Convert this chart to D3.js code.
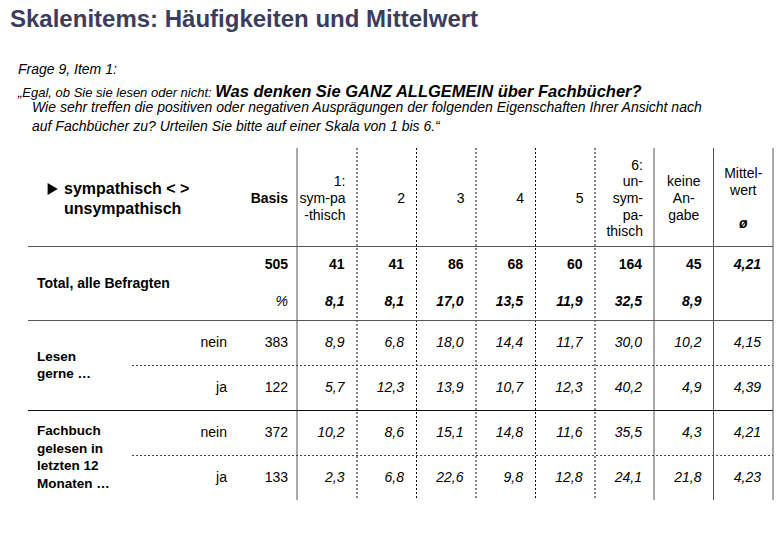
<!DOCTYPE html>
<html>
<head>
<meta charset="utf-8">
<script src="https://cdn.jsdelivr.net/npm/d3@7"></script>
<style>
  body { margin: 0; background: #fff; }
  svg { font-family: "Liberation Sans", Arial, sans-serif; }
</style>
</head>
<body>
<svg width="780" height="540"></svg>
<script>
// ---- data ----
const title = "Skalenitems: Häufigkeiten und Mittelwert";
const questionLines = ["Frage 9, Item 1:"];
const questionLead = "„Egal, ob Sie sie lesen oder nicht: ";
const questionBold = "Was denken Sie GANZ ALLGEMEIN über Fachbücher?";
const questionRest = [
  "Wie sehr treffen die positiven oder negativen Ausprägungen der folgenden Eigenschaften Ihrer Ansicht nach",
  "auf Fachbücher zu? Urteilen Sie bitte auf einer Skala von 1 bis 6.“"
];
const itemLabel = ["sympathisch < >", "unsympathisch"];

const columns = ["s1", "s2", "s3", "s4", "s5", "s6", "kA", "mw"];
const colHeaders = [
  ["1:", "sym-pa", "-thisch"],
  ["2"], ["3"], ["4"], ["5"],
  ["6:", "un-", "sym-", "pa-", "thisch"],
  ["keine", "An-", "gabe"],
  ["Mittel-", "wert"]
];

const totalLabel = "Total, alle Befragten";
const totalN = 505;
const totalCounts = [41, 41, 86, 68, 60, 164, 45];
const totalPct = [8.1, 8.1, 17.0, 13.5, 11.9, 32.5, 8.9];
const totalMean = 4.21;

const groupLabels = [["Lesen", "gerne …"], ["Fachbuch", "gelesen in", "letzten 12", "Monaten …"]];
const subLabels = ["nein", "ja"];
const subN = [[383, 122], [372, 133]];
const subPct = [
  [[8.9, 6.8, 18.0, 14.4, 11.7, 30.0, 10.2], [5.7, 12.3, 13.9, 10.7, 12.3, 40.2, 4.9]],
  [[10.2, 8.6, 15.1, 14.8, 11.6, 35.5, 4.3], [2.3, 6.8, 22.6, 9.8, 12.8, 24.1, 21.8]]
];
const subMean = [[4.15, 4.39], [4.21, 4.23]];

// ---- layout ----
const svg = d3.select("svg");
const pct = v => d3.format(".1f")(v).replace(".", ",");
const mean = v => d3.format(".2f")(v).replace(".", ",");

const x = d3.scaleBand().domain(columns).range([297, 773]);
const gridLeft = 28, gridRight = 773;
const gridTop = 148, headBottom = 246, totalBottom = 320, gridBottom = 500;
const totalRow = d3.scaleBand().domain(["n", "pct"]).range([headBottom, totalBottom]);
const groupBand = d3.scaleBand().domain([0, 1]).range([totalBottom, gridBottom]);
const subRow = d3.scaleBand().domain([0, 1]).range([0, groupBand.bandwidth()]);
const rowY = (g, s) => groupBand(g) + subRow(s) + subRow.bandwidth() / 2;
const pad = 12;
const fs = 14; // table font size
const colRight = c => x(c) + x.bandwidth() - pad;

// title + question
svg.append("text").attr("x", 10).attr("y", 27)
  .attr("font-size", 24).attr("font-weight", "bold").attr("fill", "#3a3d5c")
  .text(title);

svg.append("text").attr("x", 18).attr("y", 74)
  .attr("font-size", 14).attr("font-style", "italic").text(questionLines[0]);

const q2 = svg.append("text").attr("x", 18).attr("y", 97).attr("font-style", "italic");
q2.append("tspan").attr("font-size", 13).text(questionLead);
q2.append("tspan").attr("font-size", 16.5).attr("font-weight", "bold").text(questionBold);

svg.selectAll(".qrest").data(questionRest).join("text")
  .attr("class", "qrest")
  .attr("x", 32).attr("y", (d, i) => 112 + i * 19)
  .attr("font-size", 14).attr("font-style", "italic")
  .text(d => d);

// grid lines
const grid = svg.append("g");
// solid verticals
[x("s1"), x("kA"), x("mw"), gridRight].forEach(v => {
  grid.append("line").attr("x1", v).attr("x2", v).attr("y1", gridTop).attr("y2", gridBottom)
    .attr("stroke", "#555").attr("stroke-width", 1);
});
// dotted verticals
["s2", "s3", "s4", "s5", "s6"].forEach(c => {
  grid.append("line").attr("x1", x(c) + 0.5).attr("x2", x(c) + 0.5).attr("y1", gridTop).attr("y2", gridBottom)
    .attr("stroke", "#111").attr("stroke-width", 1).attr("stroke-dasharray", "2,2");
});
// horizontals
[[headBottom, "#555"], [totalBottom, "#555"], [groupBand(1), "#111"]].forEach(([v, col]) => {
  grid.append("line").attr("x1", gridLeft).attr("x2", gridRight).attr("y1", v + 0.5).attr("y2", v + 0.5)
    .attr("stroke", col).attr("stroke-width", 1.2);
});
[0, 1].forEach(g => {
  const v = groupBand(g) + subRow(1);
  grid.append("line").attr("x1", 132).attr("x2", gridRight).attr("y1", v + 0.5).attr("y2", v + 0.5)
    .attr("stroke", "#444").attr("stroke-width", 1).attr("stroke-dasharray", "2,2");
});

// header
svg.append("path")
  .attr("d", d3.symbol(d3.symbolTriangle, 60)())
  .attr("transform", "translate(51,189) rotate(90)")
  .attr("fill", "#000");
svg.selectAll(".item").data(itemLabel).join("text")
  .attr("class", "item")
  .attr("x", 64).attr("y", (d, i) => 194 + i * 20)
  .attr("font-size", 16).attr("font-weight", "bold")
  .text(d => d);

svg.append("text").attr("x", 288).attr("y", 198).attr("dy", "0.35em")
  .attr("text-anchor", "end").attr("font-size", fs).attr("font-weight", "bold").text("Basis");

const lh = 16.7;
columns.forEach((c, i) => {
  const lines = colHeaders[i];
  const centered = c === "kA" || c === "mw";
  const xPos = centered ? x(c) + x.bandwidth() / 2 : colRight(c) + 1;
  const y0 = c === "mw" ? 173 : 198 - (lines.length - 1) * lh / 2;
  svg.append("g").selectAll("text").data(lines).join("text")
    .attr("x", xPos).attr("y", (d, j) => y0 + j * lh).attr("dy", "0.35em")
    .attr("text-anchor", centered ? "middle" : "end")
    .attr("font-size", fs)
    .text(d => d);
});
svg.append("text").attr("x", x("mw") + x.bandwidth() / 2).attr("y", 223).attr("dy", "0.35em")
  .attr("text-anchor", "middle").attr("font-size", fs).attr("font-weight", "bold").attr("font-style", "italic")
  .text("ø");

// total rows
const yN = totalRow("n") + totalRow.bandwidth() / 2;
const yP = totalRow("pct") + totalRow.bandwidth() / 2;
svg.append("text").attr("x", 37).attr("y", headBottom + 37).attr("dy", "0.35em")
  .attr("font-size", 14).attr("font-weight", "bold").text(totalLabel);
svg.append("text").attr("x", 288).attr("y", yN).attr("dy", "0.35em")
  .attr("text-anchor", "end").attr("font-size", fs).attr("font-weight", "bold").text(totalN);
svg.append("text").attr("x", 288).attr("y", yP).attr("dy", "0.35em")
  .attr("text-anchor", "end").attr("font-size", fs).attr("font-style", "italic").text("%");

const valCols = columns.slice(0, 7);
svg.append("g").selectAll("text").data(totalCounts).join("text")
  .attr("x", (d, i) => colRight(valCols[i])).attr("y", yN).attr("dy", "0.35em")
  .attr("text-anchor", "end").attr("font-size", fs).attr("font-weight", "bold")
  .text(d => d);
svg.append("g").selectAll("text").data(totalPct).join("text")
  .attr("x", (d, i) => colRight(valCols[i])).attr("y", yP).attr("dy", "0.35em")
  .attr("text-anchor", "end").attr("font-size", fs).attr("font-weight", "bold").attr("font-style", "italic")
  .text(d => pct(d));
svg.append("text").attr("x", colRight("mw")).attr("y", yN).attr("dy", "0.35em")
  .attr("text-anchor", "end").attr("font-size", fs).attr("font-weight", "bold").attr("font-style", "italic")
  .text(mean(totalMean));

// group rows
groupLabels.forEach((lines, g) => {
  const cy = groupBand(g) + 45 + (g === 1 ? 2 : 0);
  const y0 = cy - (lines.length - 1) * 17.5 / 2;
  svg.append("g").selectAll("text").data(lines).join("text")
    .attr("x", 37).attr("y", (d, j) => y0 + j * 17.5).attr("dy", "0.35em")
    .attr("font-size", 13.5).attr("font-weight", "bold")
    .text(d => d);

  subLabels.forEach((lab, s) => {
    const y = rowY(g, s);
    const row = svg.append("g");
    row.append("text").attr("x", 227).attr("y", y).attr("dy", "0.35em")
      .attr("text-anchor", "end").attr("font-size", fs).text(lab);
    row.append("text").attr("x", 288).attr("y", y).attr("dy", "0.35em")
      .attr("text-anchor", "end").attr("font-size", fs).text(subN[g][s]);
    row.selectAll(".v").data(subPct[g][s]).join("text")
      .attr("class", "v")
      .attr("x", (d, i) => colRight(valCols[i])).attr("y", y).attr("dy", "0.35em")
      .attr("text-anchor", "end").attr("font-size", fs).attr("font-style", "italic")
      .text(d => pct(d));
    row.append("text").attr("x", colRight("mw")).attr("y", y).attr("dy", "0.35em")
      .attr("text-anchor", "end").attr("font-size", fs).attr("font-style", "italic")
      .text(mean(subMean[g][s]));
  });
});
</script>
</body>
</html>
